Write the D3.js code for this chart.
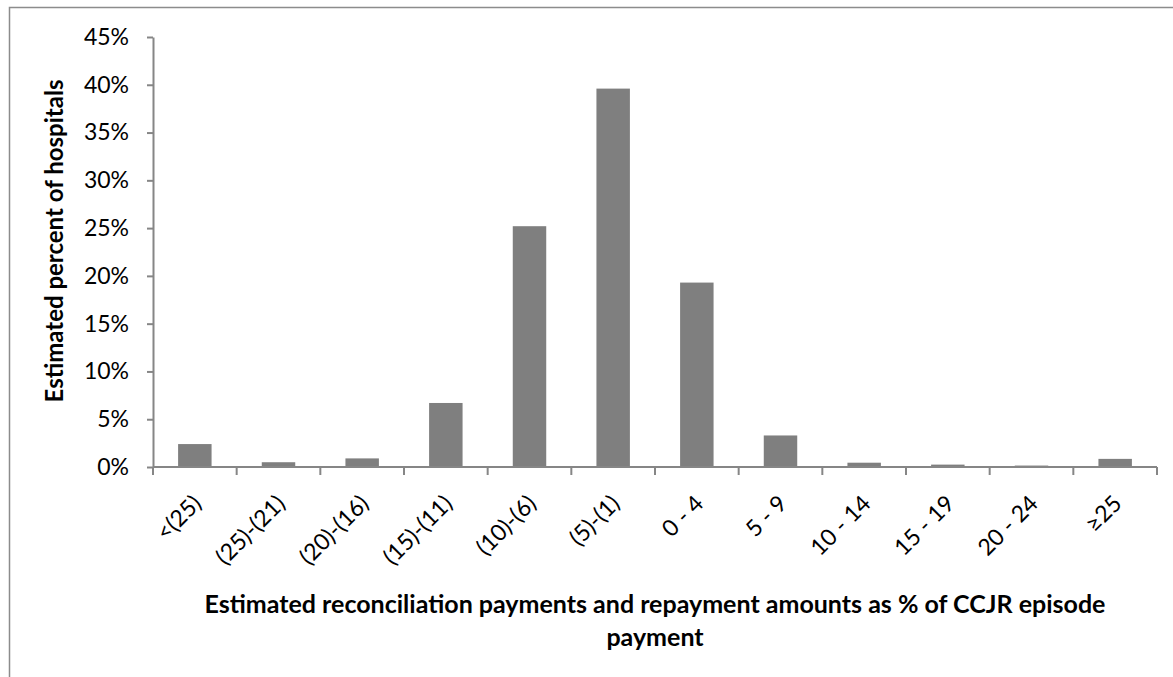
<!DOCTYPE html>
<html>
<head>
<meta charset="utf-8">
<script src="https://cdn.jsdelivr.net/npm/d3@7"></script>
<style>
  body { margin: 0; background: #fff; }
  text { font-family: Lato, "Open Sans", sans-serif; fill: #000; }
</style>
</head>
<body>
<svg id="chart" width="1173" height="677"></svg>
<script>
// Chart data
const categories = ["<(25)", "(25)-(21)", "(20)-(16)", "(15)-(11)", "(10)-(6)", "(5)-(1)",
                    "0 - 4", "5 - 9", "10 - 14", "15 - 19", "20 - 24", "\u226525"];
const percents = [2.4, 0.5, 0.9, 6.7, 25.2, 39.6, 19.3, 3.3, 0.45, 0.25, 0.15, 0.85];
const yTicks = [0, 5, 10, 15, 20, 25, 30, 35, 40, 45];

const svg = d3.select("#chart");
const margin = { left: 153, right: 16, top: 37, bottom: 210 };
const width = 1173, height = 677;

// outer frame
svg.append("rect")
    .attr("x", 9.5).attr("y", 7.5)
    .attr("width", 1200).attr("height", 700)
    .attr("fill", "none").attr("stroke", "#8c8c8c").attr("stroke-width", 1.5);

const x = d3.scaleBand()
    .domain(categories)
    .range([margin.left, width - margin.right])
    .paddingInner(0.6).paddingOuter(0.3);

const y = d3.scaleLinear()
    .domain([0, 45])
    .range([height - margin.bottom, margin.top]);

// bars
svg.selectAll(".bar")
    .data(categories)
    .enter().append("rect")
    .attr("class", "bar")
    .attr("x", d => x(d))
    .attr("width", x.bandwidth())
    .attr("y", (d, i) => y(percents[i]))
    .attr("height", (d, i) => y(0) - y(percents[i]))
    .attr("fill", "#7f7f7f");

// y axis
const yAxis = svg.append("g")
    .attr("transform", `translate(${margin.left},0)`)
    .call(d3.axisLeft(y).tickValues(yTicks).tickSize(6).tickSizeOuter(0).tickFormat(d => d + "%"));
yAxis.selectAll("text")
    .attr("font-size", 23).attr("x", -24)
    .style("font-family", "Lato, sans-serif").attr("fill", "#000");

// x axis with ticks on band boundaries
const boundaries = d3.range(categories.length + 1).map(i => margin.left + i * (width - margin.right - margin.left) / categories.length);
const xAxis = svg.append("g");
xAxis.append("line")
    .attr("x1", margin.left).attr("x2", width - margin.right)
    .attr("y1", y(0)).attr("y2", y(0));
xAxis.selectAll(".xt")
    .data(boundaries)
    .enter().append("line")
    .attr("x1", d => d).attr("x2", d => d)
    .attr("y1", y(0)).attr("y2", y(0) + 8);
xAxis.selectAll("line").attr("stroke", "#868686").attr("stroke-width", 2);
yAxis.selectAll("line, path").attr("stroke", "#868686").attr("stroke-width", 2);

xAxis.selectAll(".xl")
    .data(categories)
    .enter().append("text")
    .attr("font-size", 23)
    .attr("text-anchor", "end")
    .attr("transform", d => `translate(${x(d) + x.bandwidth() / 2 + 8},${y(0) + 38}) rotate(-45)`)
    .text(d => d);

// axis titles
svg.append("text")
    .attr("transform", `translate(63,241) rotate(-90)`)
    .attr("text-anchor", "middle")
    .attr("font-size", 24).attr("font-weight", "bold")
    .text("Estimated percent of hospitals");

svg.append("text")
    .attr("x", 655).attr("y", 613)
    .attr("text-anchor", "middle")
    .attr("font-size", 25).attr("font-weight", "bold")
    .text("Estimated reconciliation payments and repayment amounts as % of CCJR episode");
svg.append("text")
    .attr("x", 655).attr("y", 646)
    .attr("text-anchor", "middle")
    .attr("font-size", 25).attr("font-weight", "bold")
    .text("payment");
</script>
</body>
</html>
